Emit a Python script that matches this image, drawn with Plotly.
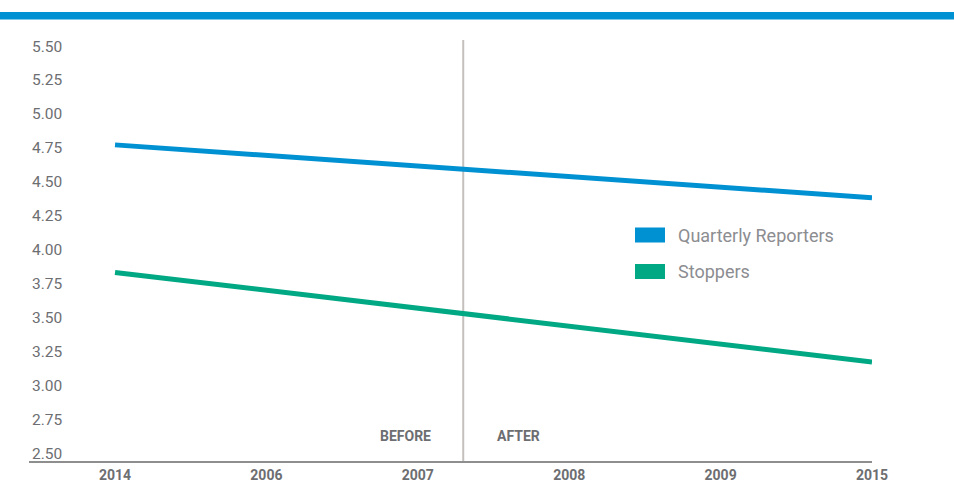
import plotly.graph_objects as go

# Category labels along the x axis and the two series values
years = ["2014", "2006", "2007", "2008", "2009", "2015"]
series_names = ["Quarterly Reporters", "Stoppers"]
quarterly_reporters = [4.83, 4.44]   # values at 2014 and 2015
stoppers = [3.89, 3.23]
endpoints = [0, 5]                    # positions of 2014 and 2015 on the axis
divider_pos = 2.3                     # before / after split
y_ticks = [2.50, 2.75, 3.00, 3.25, 3.50, 3.75, 4.00, 4.25, 4.50, 4.75, 5.00, 5.25, 5.50]

BLUE = "#0091D2"
GREEN = "#00A884"
TEXT = "#6D6E71"
FONT = "Roboto"

fig = go.Figure()
for name, vals, color in zip(series_names, [quarterly_reporters, stoppers], [BLUE, GREEN]):
    fig.add_trace(go.Scatter(
        x=endpoints, y=vals, mode="lines", name=name,
        line=dict(color=color, width=5), showlegend=False,
        hoverinfo="x+y+name",
    ))

# Vertical divider between the before and after periods
fig.add_shape(type="line", xref="x", yref="paper", x0=divider_pos, x1=divider_pos,
              y0=0, y1=1, line=dict(color="#C4C0BE", width=2), layer="below")

# Heading rule across the top
fig.add_shape(type="rect", xref="paper", yref="paper", x0=-29/843, x1=(954-29)/843,
              y0=(461-19.5)/421, y1=(461-12)/421, fillcolor=BLUE, line=dict(width=0))

for txt, anchor, shift in [("BEFORE", "right", -30), ("AFTER", "left", 32)]:
    fig.add_annotation(x=divider_pos, y=2.5, xref="x", yref="y", text=txt,
                       showarrow=False, xanchor=anchor, yanchor="middle",
                       xshift=shift, yshift=25,
                       font=dict(family=FONT, size=14, color=TEXT, weight="bold"))

# Legend drawn as swatches with labels
legend_rows = [235, 271.5]
for name, color, cy in zip(series_names, [BLUE, GREEN], legend_rows):
    y_mid = (461 - cy) / 421
    fig.add_shape(type="rect", xref="paper", yref="paper",
                  x0=(635-29)/843, x1=(665-29)/843,
                  y0=y_mid - 7.5/421, y1=y_mid + 7.5/421,
                  fillcolor=color, line=dict(width=0))
    fig.add_annotation(x=(676-29)/843, y=y_mid, xref="paper", yref="paper",
                       text=name, showarrow=False, xanchor="left", yanchor="middle",
                       font=dict(family=FONT, size=18, color="#8C8D91"))

fig.update_layout(
    width=954, height=483,
    margin=dict(l=29, r=82, t=40, b=22),
    paper_bgcolor="white", plot_bgcolor="white",
    font=dict(family=FONT, color=TEXT),
    xaxis=dict(
        range=[-0.568, 5], tickmode="array", tickvals=list(range(len(years))),
        ticktext=years, showgrid=False, zeroline=False,
        showline=True, linecolor="#8E8E8E", linewidth=1.5,
        ticks="", automargin=False,
        tickfont=dict(family=FONT, size=14, color=TEXT, weight="bold"),
    ),
    yaxis=dict(
        range=[2.5, 5.603], tickmode="array", tickvals=y_ticks,
        ticktext=[f"{v:.2f}" for v in y_ticks], showgrid=False, zeroline=False,
        showline=False, ticks="", ticklabelposition="inside top", automargin=False,
        ticklabeloverflow="allow", ticklabelshift=3,
        tickfont=dict(family=FONT, size=15.5, color=TEXT),
    ),
)

fig.write_html("out.html")
